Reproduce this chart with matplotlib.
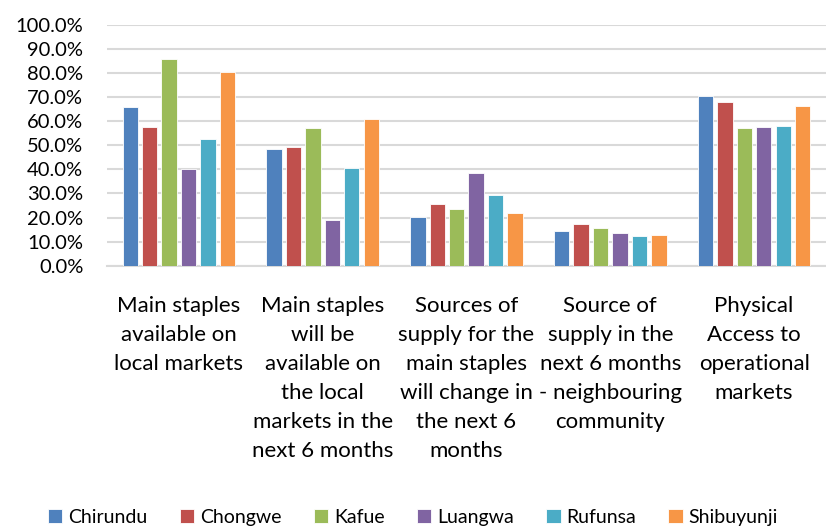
import matplotlib
matplotlib.use("Agg")
import matplotlib.pyplot as plt
import numpy as np
from matplotlib.ticker import PercentFormatter

plt.rcParams['font.family'] = ['Lato', 'DejaVu Sans']

categories = [
    "Main staples\navailable on\nlocal markets",
    "Main staples\nwill be\navailable on\nthe local\nmarkets in the\nnext 6 months",
    "Sources of\nsupply for the\nmain staples\nwill change in\nthe next 6\nmonths",
    "Source of\nsupply in the\nnext 6 months\n- neighbouring\ncommunity",
    "Physical\nAccess to\noperational\nmarkets",
]
districts = ["Chirundu", "Chongwe", "Kafue", "Luangwa", "Rufunsa", "Shibuyunji"]
colors = ["#4F81BD", "#C0504D", "#9BBB59", "#8064A2", "#4BACC6", "#F79646"]

chirundu = [65.8, 48.5, 20.2, 14.4, 70.4]
chongwe = [57.8, 49.3, 25.6, 17.2, 67.9]
kafue = [86.0, 57.3, 23.5, 15.8, 57.3]
luangwa = [40.0, 19.1, 38.4, 13.4, 57.5]
rufunsa = [52.8, 40.7, 29.5, 12.3, 58.0]
shibuyunji = [80.3, 60.9, 21.9, 12.7, 66.3]
series = [chirundu, chongwe, kafue, luangwa, rufunsa, shibuyunji]

fig = plt.figure(figsize=(8.26, 5.27), dpi=100)
ax = fig.add_axes([0.1295, 0.4958, 0.8705, 0.4568])

x = np.arange(len(categories))
slot = 0.135
width = 0.107
for i, (name, vals, c) in enumerate(zip(districts, series, colors)):
    ax.bar(x + (i - 2.5) * slot, vals, width, color=c, label=name,
           edgecolor="white", linewidth=0.6, zorder=3)

ax.set_ylim(0, 100)
ax.set_xlim(-0.5, len(categories) - 0.5)
ax.set_yticks(np.arange(0, 101, 10))
ax.yaxis.set_major_formatter(PercentFormatter(decimals=1))
ax.grid(axis="y", color="#d9d9d9", linewidth=1.5, zorder=0)
for s in ["top", "right", "left"]:
    ax.spines[s].set_visible(False)
ax.spines["bottom"].set_color("#d9d9d9")
ax.spines["bottom"].set_linewidth(1.5)
ax.tick_params(axis="y", length=0, pad=17, labelsize=14.5, labelcolor="#000000")
ax.set_xticks(x)
ax.set_xticklabels(categories, fontsize=16, linespacing=1.56)
ax.tick_params(axis="x", length=0, pad=22)

ax.legend(loc="center", bbox_to_anchor=(0.5, 0.0178), bbox_transform=fig.transFigure,
          ncol=6, frameon=False, fontsize=14, handlelength=0.75, handleheight=0.75,
          handletextpad=0.3, columnspacing=1.65)

fig.savefig("out.png", dpi=100)
